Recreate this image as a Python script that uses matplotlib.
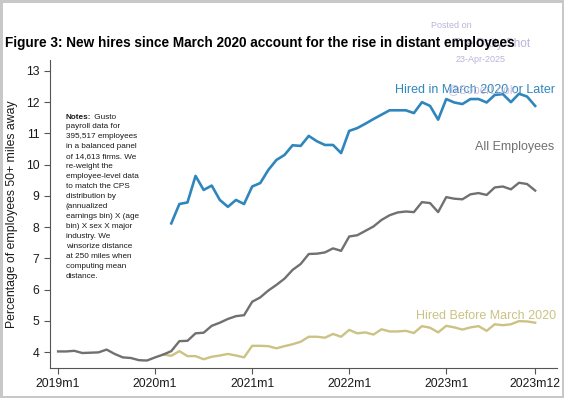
import matplotlib
matplotlib.use("Agg")
import matplotlib.pyplot as plt
import numpy as np

plt.rcParams["font.family"] = ["Liberation Sans", "DejaVu Sans"]

# Monthly series, 2019m1 .. 2023m12 (60 months); NaN where a series is not defined.
MONTHS = np.arange(60)
TICK_POS = [0, 12, 24, 36, 48, 59]
TICK_LABELS = ["2019m1", "2020m1", "2021m1", "2022m1", "2023m1", "2023m12"]

all_employees = [
    4.02, 4.02, 4.04, 3.97, 3.98, 3.99, 4.08, 3.94, 3.83, 3.81, 3.74, 3.73,
    3.83, 3.92, 4.03, 4.35, 4.36, 4.60, 4.62, 4.84, 4.94, 5.06, 5.15, 5.18,
    5.61, 5.75, 5.97, 6.15, 6.35, 6.63, 6.82, 7.14, 7.15, 7.19, 7.32, 7.24,
    7.70, 7.74, 7.88, 8.02, 8.23, 8.38, 8.47, 8.50, 8.48, 8.80, 8.77, 8.48,
    8.96, 8.91, 8.89, 9.05, 9.09, 9.03, 9.27, 9.30, 9.21, 9.42, 9.38, 9.17,
]
hired_after = [np.nan] * 14 + [
    8.12, 8.74, 8.79, 9.64, 9.19, 9.33, 8.87, 8.65, 8.87, 8.74,
    9.30, 9.41, 9.83, 10.15, 10.31, 10.62, 10.60, 10.92, 10.75, 10.63, 10.63, 10.37,
    11.08, 11.17, 11.31, 11.46, 11.60, 11.74, 11.74, 11.74, 11.65, 12.00, 11.88, 11.44,
    12.10, 11.99, 11.94, 12.10, 12.10, 11.99, 12.23, 12.26, 12.00, 12.27, 12.18, 11.88,
]
hired_before = [np.nan] * 13 + [
    3.92, 3.88, 4.03, 3.87, 3.87, 3.77, 3.85, 3.89, 3.94, 3.89, 3.83,
    4.20, 4.20, 4.19, 4.12, 4.19, 4.25, 4.33, 4.49, 4.49, 4.46, 4.58, 4.49,
    4.71, 4.60, 4.63, 4.56, 4.73, 4.66, 4.66, 4.68, 4.61, 4.83, 4.78, 4.63,
    4.84, 4.79, 4.72, 4.79, 4.83, 4.68, 4.89, 4.86, 4.89, 4.99, 4.98, 4.94,
]

BLUE = "#2f86bd"
GRAY = "#707070"
TAN = "#cbc283"
INK = "#1a1a1a"
WATERMARK = "#b9b5d9"

NOTE_LINES = [
    "payroll data for", "395,517 employees", "in a balanced panel",
    "of 14,613 firms. We", "re-weight the", "employee-level data",
    "to match the CPS", "distribution by", "(annualized",
    "earnings bin) X (age", "bin) X sex X major", "industry. We",
    "winsorize distance", "at 250 miles when", "computing mean", "distance.",
]

fig = plt.figure(figsize=(5.64, 3.98), dpi=100)
fig.patch.set_facecolor("white")
fig.patch.set_edgecolor("#c8c8c8")
fig.patch.set_linewidth(2.5)
ax = fig.add_axes([50 / 564, 30 / 398, 507 / 564, 308 / 398])

ax.plot(MONTHS, hired_before, color=TAN, lw=1.7, solid_joinstyle="round")
ax.plot(MONTHS, all_employees, color=GRAY, lw=1.7, solid_joinstyle="round")
ax.plot(MONTHS, hired_after, color=BLUE, lw=1.9, solid_joinstyle="round")

ax.set_xlim(-1, 61.7)
ax.set_ylim(3.49, 13.35)
ax.set_xticks(TICK_POS, TICK_LABELS)
ax.set_yticks(range(4, 14))
ax.tick_params(colors=INK, labelsize=8.8, length=4, width=0.8, color="#555555")
ax.set_ylabel("Percentage of employees 50+ miles away", fontsize=8.8, color=INK, labelpad=6)
for spine in ("top", "right"):
    ax.spines[spine].set_visible(False)
for spine in ("left", "bottom"):
    ax.spines[spine].set_color("#555555")
    ax.spines[spine].set_linewidth(0.8)

# series labels
ax.text(61.4, 12.40, "Hired in March 2020 or Later", color=BLUE, fontsize=9,
        ha="right", va="center")
ax.text(61.4, 10.57, "All Employees", color=GRAY, fontsize=9, ha="right", va="center")
ax.text(61.6, 5.15, "Hired Before March 2020", color=TAN, fontsize=9,
        ha="right", va="center")

# watermark
fig.text(451 / 564, 1 - 26 / 398, "Posted on", color=WATERMARK, fontsize=6.5,
         ha="center", va="center")
fig.text(492 / 564, 1 - 44 / 398, "The Daily Shot", color=WATERMARK, fontsize=8.5,
         ha="center", va="center")
fig.text(481 / 564, 1 - 60 / 398, "23-Apr-2025", color=WATERMARK, fontsize=6.5,
         ha="center", va="center")
fig.text(482 / 564, 1 - 90 / 398, "@SoberLook", color=WATERMARK, fontsize=8.5,
         ha="center", va="center", alpha=0.8)

fig.text(5 / 564, 1 - 43 / 398,
         "Figure 3: New hires since March 2020 account for the rise in distant employees",
         fontsize=9.85, weight="bold", color="black", ha="left", va="center")

# notes block: bold lead-in, then one line every 10 px
head = fig.text(66 / 564, 1 - 121 / 398, "Notes:", fontsize=5.9, weight="bold",
                color=INK, ha="left", va="bottom")
ax.annotate(" Gusto", xy=(1, 0), xycoords=head, fontsize=5.9, color=INK,
            ha="left", va="bottom", annotation_clip=False)
for k, line in enumerate(NOTE_LINES, start=1):
    fig.text(66 / 564, 1 - (117 + 10 * k) / 398, line, fontsize=5.9, color=INK,
             ha="left", va="center")

fig.savefig("out.png", dpi=100, facecolor="white", edgecolor="#c8c8c8")
